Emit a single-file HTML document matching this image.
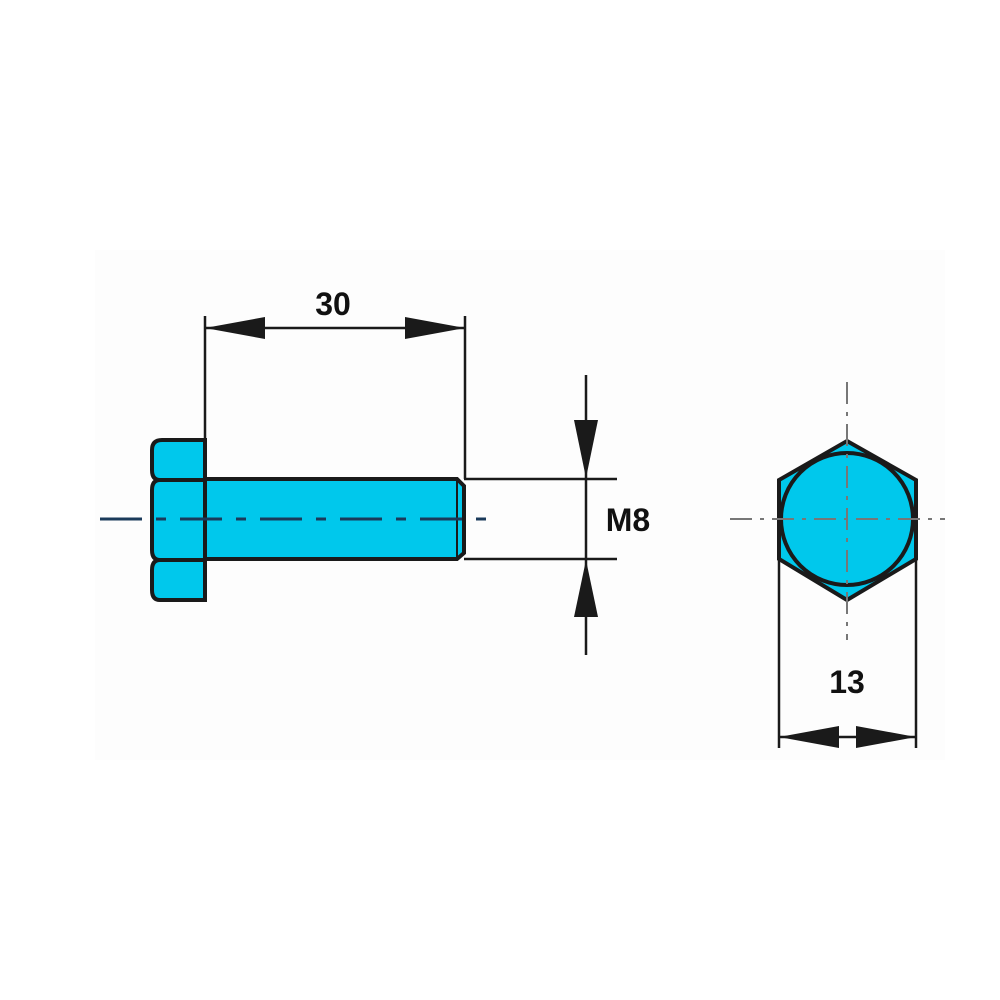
<!DOCTYPE html>
<html><head><meta charset="utf-8"><style>
html,body{margin:0;padding:0;background:#fff;}
svg{display:block;}
text{font-family:"Liberation Sans",sans-serif;font-weight:bold;font-size:32px;fill:#111;}
</style></head><body>
<svg width="1000" height="1000" viewBox="0 0 1000 1000" xmlns="http://www.w3.org/2000/svg">
<rect x="95" y="250" width="850" height="510" fill="#fdfdfd"/>
<g stroke="#1a1a1a" fill="none">
<path d="M162,440 H205 V600 H160 Q152,600 152,590 V570 Q152,560 160,560 Q152,560 152,550 V490 Q152,480 160,480 Q152,480 152,470 V450 Q152,440 162,440 Z" fill="#00c8ec" stroke-width="4"/>
<line x1="154" y1="480" x2="205" y2="480" stroke-width="4"/>
<line x1="154" y1="560" x2="205" y2="560" stroke-width="4"/>
<path d="M205,479 H457 L464,486 V553 L457,559 H205 Z" fill="#00c8ec" stroke-width="4"/>
<line x1="457" y1="481" x2="457" y2="557" stroke-width="2"/>
<line x1="100" y1="519" x2="492" y2="519" stroke="#1a3a5a" stroke-width="3" stroke-dasharray="42,14,10,14"/>
<line x1="205" y1="316" x2="205" y2="440" stroke-width="2.5"/>
<line x1="465" y1="316" x2="465" y2="479" stroke-width="2.5"/>
<line x1="205" y1="328" x2="465" y2="328" stroke-width="2.5"/>
<line x1="464" y1="479" x2="617" y2="479" stroke-width="2.5"/>
<line x1="464" y1="559" x2="617" y2="559" stroke-width="2.5"/>
<line x1="586" y1="375" x2="586" y2="655" stroke-width="2.5"/>
<polygon points="847,441 916,480 916,559 847,600 779,559 779,480" fill="#00c8ec" stroke-width="4"/>
<circle cx="847" cy="519" r="66" fill="#00c8ec" stroke-width="4"/>
<line x1="730" y1="519" x2="945" y2="519" stroke="#777" stroke-width="2" stroke-dasharray="22,8,4,8"/>
<line x1="847" y1="382" x2="847" y2="640" stroke="#777" stroke-width="2" stroke-dasharray="22,8,4,8"/>
<line x1="779" y1="559" x2="779" y2="748" stroke-width="2.5"/>
<line x1="916" y1="559" x2="916" y2="748" stroke-width="2.5"/>
<line x1="779" y1="737" x2="916" y2="737" stroke-width="2.5"/>
</g>
<g fill="#1a1a1a">
<polygon points="205,328 265,317 265,339"/>
<polygon points="465,328 405,317 405,339"/>
<polygon points="586,478 574,420 598,420"/>
<polygon points="586,560 574,617 598,617"/>
<polygon points="779,737 839,726 839,748"/>
<polygon points="916,737 856,726 856,748"/>
</g>
<text x="333" y="315" text-anchor="middle">30</text>
<text x="628" y="531" text-anchor="middle">M8</text>
<text x="847" y="693" text-anchor="middle">13</text>
</svg>
</body></html>
